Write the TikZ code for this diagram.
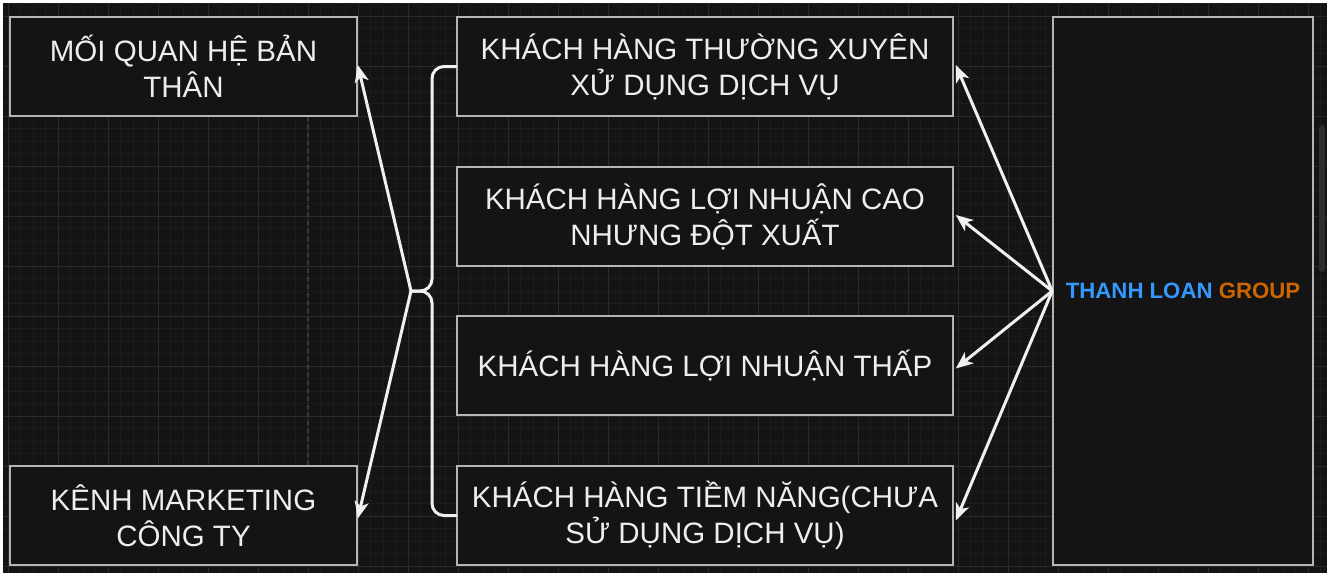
\documentclass[tikz,border=0pt]{standalone}
\usepackage{fontspec}
\setmainfont{Liberation Sans}
\usetikzlibrary{arrows.meta}
\definecolor{bg}{HTML}{141414}
\definecolor{minorgrid}{HTML}{1C1C1C}
\definecolor{majorgrid}{HTML}{2A2A2A}
\definecolor{dashc}{HTML}{3A3A3A}
\definecolor{boxline}{HTML}{B5B5B5}
\definecolor{txt}{HTML}{EEEEEE}
\definecolor{arrowc}{HTML}{F0F0F0}
\definecolor{tlblue}{HTML}{3399FF}
\definecolor{tlorange}{HTML}{CC6600}
\definecolor{scrollc}{HTML}{2E2E2E}
\begin{document}
\begin{tikzpicture}[x=1pt,y=-1pt,
  box/.style={draw=boxline, line width=1.6pt, fill=bg, inner sep=0pt,
    minimum width=#1, minimum height=99pt, align=center, text=txt,
    font=\fontsize{29.5}{36}\selectfont},
  box/.default=347pt,
  conn/.style={draw=arrowc, line width=3pt, -{Stealth[length=17pt,width=14pt,inset=4.5pt]}},
  bracel/.style={draw=arrowc, line width=3pt, rounded corners=12pt, line cap=round}
]
\useasboundingbox (0,0) rectangle (1330,576);
\fill[white] (0,0) rectangle (1330,576);
\fill[bg] (3,3) rectangle (1327,573);
\begin{scope}
  \clip (3,3) rectangle (1327,573);
  \foreach \x in {-4.5,8,...,1330} \draw[minorgrid, line width=1pt] (\x,3) -- (\x,573);
  \foreach \y in {3.5,16,...,576} \draw[minorgrid, line width=1pt] (3,\y) -- (1327,\y);
  \foreach \x in {8,58,...,1330} \draw[majorgrid, line width=1pt] (\x,3) -- (\x,573);
  \foreach \y in {16,66,...,576} \draw[majorgrid, line width=1pt] (3,\y) -- (1327,\y);
\end{scope}
\draw[draw=dashc, line width=1.2pt, dash pattern=on 4pt off 4pt] (308,117) -- (308,466);
\fill[scrollc, rounded corners=3pt] (1319,125) rectangle (1325,272);

% left boxes
\node[box] (b1) at (183.5,66.5) {MỐI QUAN HỆ BẢN\\THÂN};
\node[box] (b2) at (183.5,515.5) {KÊNH MARKETING\\CÔNG TY};
% middle boxes
\node[box=496pt] (m1) at (705,66.5) {KHÁCH HÀNG THƯỜNG XUYÊN\\XỬ DỤNG DỊCH VỤ};
\node[box=496pt] (m2) at (705,216.5) {KHÁCH HÀNG LỢI NHUẬN CAO\\NHƯNG ĐỘT XUẤT};
\node[box=496pt] (m3) at (705,365.5) {KHÁCH HÀNG LỢI NHUẬN THẤP};
\node[box=496pt] (m4) at (705,515.5) {KHÁCH HÀNG TIỀM NĂNG(CHƯA\\SỬ DỤNG DỊCH VỤ)};
% right box
\node[draw=boxline, line width=1.6pt, fill=bg, minimum width=260pt, minimum height=548pt,
  inner sep=0pt, font=\bfseries\fontsize{22.2}{26}\selectfont] (rb) at (1183,291)
  {\textcolor{tlblue}{THANH LOAN} \textcolor{tlorange}{GROUP}};

% brace
\coordinate (tip) at (411,291);
\coordinate (bt) at (432,66.5);
\coordinate (bb) at (432,515.5);
\draw[bracel] (m1.west) -- (bt) -- (432,291) -- (tip);
\draw[bracel] (tip) -- (432,291) -- (bb) -- (m4.west);

% arrows to the left boxes
\draw[conn] (tip) -- ([yshift=1.5pt]b1.east);
\draw[conn] (tip) -- ([yshift=-3pt]b2.east);

% arrows from the group
\draw[conn] (rb.west) -- ([xshift=2pt,yshift=1.5pt]m1.east);
\draw[conn] (rb.west) -- ([xshift=2pt,yshift=1.5pt]m2.east);
\draw[conn] (rb.west) -- ([xshift=2pt,yshift=-3pt]m3.east);
\draw[conn] (rb.west) -- ([xshift=2pt,yshift=-5pt]m4.east);
\end{tikzpicture}
\end{document}
